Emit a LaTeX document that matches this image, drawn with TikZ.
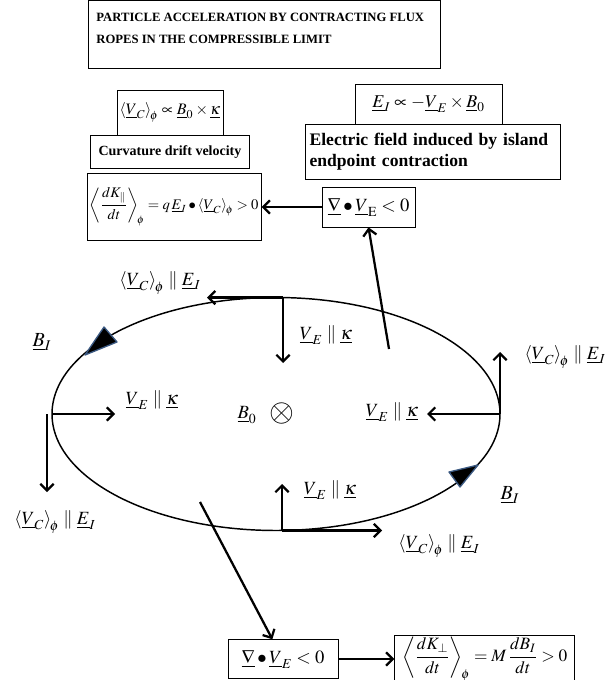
\documentclass[tikz,border=0pt]{standalone}
\usepackage{amsmath}
\usepackage{mathptmx}
\usepackage[no-math]{fontspec}
\setmainfont{Liberation Serif}
\usepackage{tikz}
\usetikzlibrary{arrows.meta, positioning}
\definecolor{tipblue}{RGB}{59,89,130}
\newcommand{\ub}[1]{\underline{#1}}
\newcommand{\avg}[1]{\left\langle #1 \right\rangle_{\!\phi}}
\tikzset{
  box/.style={draw, line width=0.6pt, fill=white, inner sep=2pt, font=\fontsize{14}{16}\selectfont},
  tbox/.style={box, font=\fontsize{13.2}{16}\selectfont\bfseries, align=left, inner xsep=3pt},
  arr/.style={-{Straight Barb[length=5pt, width=10pt]}, line width=1.7pt},
  lab/.style={inner sep=1pt, font=\fontsize{14}{16}\selectfont},
  orbit/.style={line width=1.1pt},
  flowtip/.style={fill=black, draw=tipblue, line width=1pt, line join=round},
}
\begin{document}
\begin{tikzpicture}[x=0.75pt, y=-0.75pt, node distance=0pt]
  \useasboundingbox (0,0) rectangle (609,680);
  \node[box, anchor=north west, inner xsep=5pt, inner ysep=4.5pt, minimum width=264pt, align=left] (title) at (88,0)
    {\parbox[t][42pt][t]{252pt}{\fontsize{9.5}{17}\selectfont\bfseries\rule{0pt}{11pt}PARTICLE ACCELERATION BY CONTRACTING FLUX\\ROPES IN THE COMPRESSIBLE LIMIT}};

  \node[box, minimum width=79.5pt, minimum height=33.75pt, font=\fontsize{12}{14}\selectfont] (vc) at (170,112.5)
    {$\avg{\ub{V}_C}\propto\ub{B}_0\times\ub{\kappa}$};
  \node[tbox, minimum width=119.25pt, minimum height=24.75pt, font=\fontsize{10.5}{13}\selectfont\bfseries, below=of vc] (curv)
    {Curvature drift velocity};
  \node[box, minimum width=69.75pt, minimum height=30pt] (divt) at (368.5,207)
    {$\ub{\nabla}\bullet\ub{V}_{\mathrm{E}}<0$};
  \node[box, minimum width=129pt, minimum height=50.25pt, font=\fontsize{11}{13}\selectfont, left=45pt of divt] (dkpar)
    {$\left\langle\dfrac{dK_{\parallel}}{dt}\right\rangle_{\!\phi}=q\,\ub{E}_I\bullet\avg{\ub{V}_C}>0$};
  \node[box, minimum width=110.25pt, minimum height=30pt, font=\fontsize{13.5}{16}\selectfont] (ei) at (428.5,104)
    {$\ub{E}_I\propto-\ub{V}_E\times\ub{B}_0$};
  \node[tbox, minimum width=191.25pt, minimum height=41.25pt, text width=185pt, anchor=north west] (efield) at (305,124)
    {Electric field induced by island\\endpoint contraction};

  \node[box, minimum width=82.5pt, minimum height=29pt] (divb) at (283,659)
    {$\ub{\nabla}\bullet\ub{V}_E<0$};
  \node[box, minimum width=135pt, inner ysep=0.5pt, font=\fontsize{13}{15}\selectfont, right=42pt of divb] (dkperp)
    {$\left\langle\dfrac{dK_{\perp}}{dt}\right\rangle_{\!\phi}=M\,\dfrac{dB_I}{dt}>0$};

  \draw[orbit] (276,414) ellipse [x radius=224, y radius=116.5];
  \filldraw[flowtip] (85,355) -- (104,327) -- (117,342) -- cycle;
  \filldraw[flowtip] (478,465) -- (449,472) -- (460,487) -- cycle;

  \coordinate (ct) at (283,297.6);
  \coordinate (cl) at (52,414);
  \coordinate (cr) at (500,414);
  \coordinate (cb) at (282,530.5);
  \coordinate (ctl) at (207,297.6);
  \coordinate (ctd) at (283,363);
  \coordinate (clr) at (115,414);
  \coordinate (cl0) at (47,414);
  \coordinate (cld) at (47,492);
  \coordinate (crl) at (427,414);
  \coordinate (cru) at (500,352);
  \coordinate (cbu) at (282,484);
  \coordinate (cbr) at (382,530.5);
  \foreach \a/\b in {ct/ctl, ct/ctd, cl/clr, cl0/cld, cr/crl, cr/cru, cb/cbu, cb/cbr}
    \draw[arr] (\a) -- (\b);

  \coordinate (up0) at (389,349);
  \coordinate (dn0) at (200,502);
  \draw[arr] (up0) -- (divt.south);
  \draw[arr] (divt) -- (dkpar);
  \draw[arr] (dn0) -- ([xshift=-8pt]divb.north);
  \draw[arr] (divb) -- (dkperp);

  \node[lab] (vct) at (160,283) {$\avg{\ub{V}_C}\parallel\ub{E}_I$};
  \node[lab] (vet) at (326,335) {$\ub{V}_E\parallel\ub{\kappa}$};
  \node[lab] (vel) at (152,400) {$\ub{V}_E\parallel\ub{\kappa}$};
  \node[lab] (vcl) at (55,522) {$\avg{\ub{V}_C}\parallel\ub{E}_I$};
  \node[lab] (ver) at (392,412) {$\ub{V}_E\parallel\ub{\kappa}$};
  \node[lab, anchor=west] (vcr) at (523,357) {$\avg{\ub{V}_C}\parallel\ub{E}_I$};
  \node[lab] (veb) at (330,490) {$\ub{V}_E\parallel\ub{\kappa}$};
  \node[lab] (vcb) at (439,546) {$\avg{\ub{V}_C}\parallel\ub{E}_I$};
  \node[lab] (b0) at (247,415) {$\ub{B}_0$};
  \node[lab, font=\fontsize{24}{24}\selectfont] (ox) at (282,413) {$\otimes$};
  \node[lab, font=\fontsize{15}{17}\selectfont] (bil) at (42,342) {$\ub{B}_I$};
  \node[lab, font=\fontsize{15}{17}\selectfont] (bir) at (510,495) {$\ub{B}_I$};
\end{tikzpicture}
\end{document}
